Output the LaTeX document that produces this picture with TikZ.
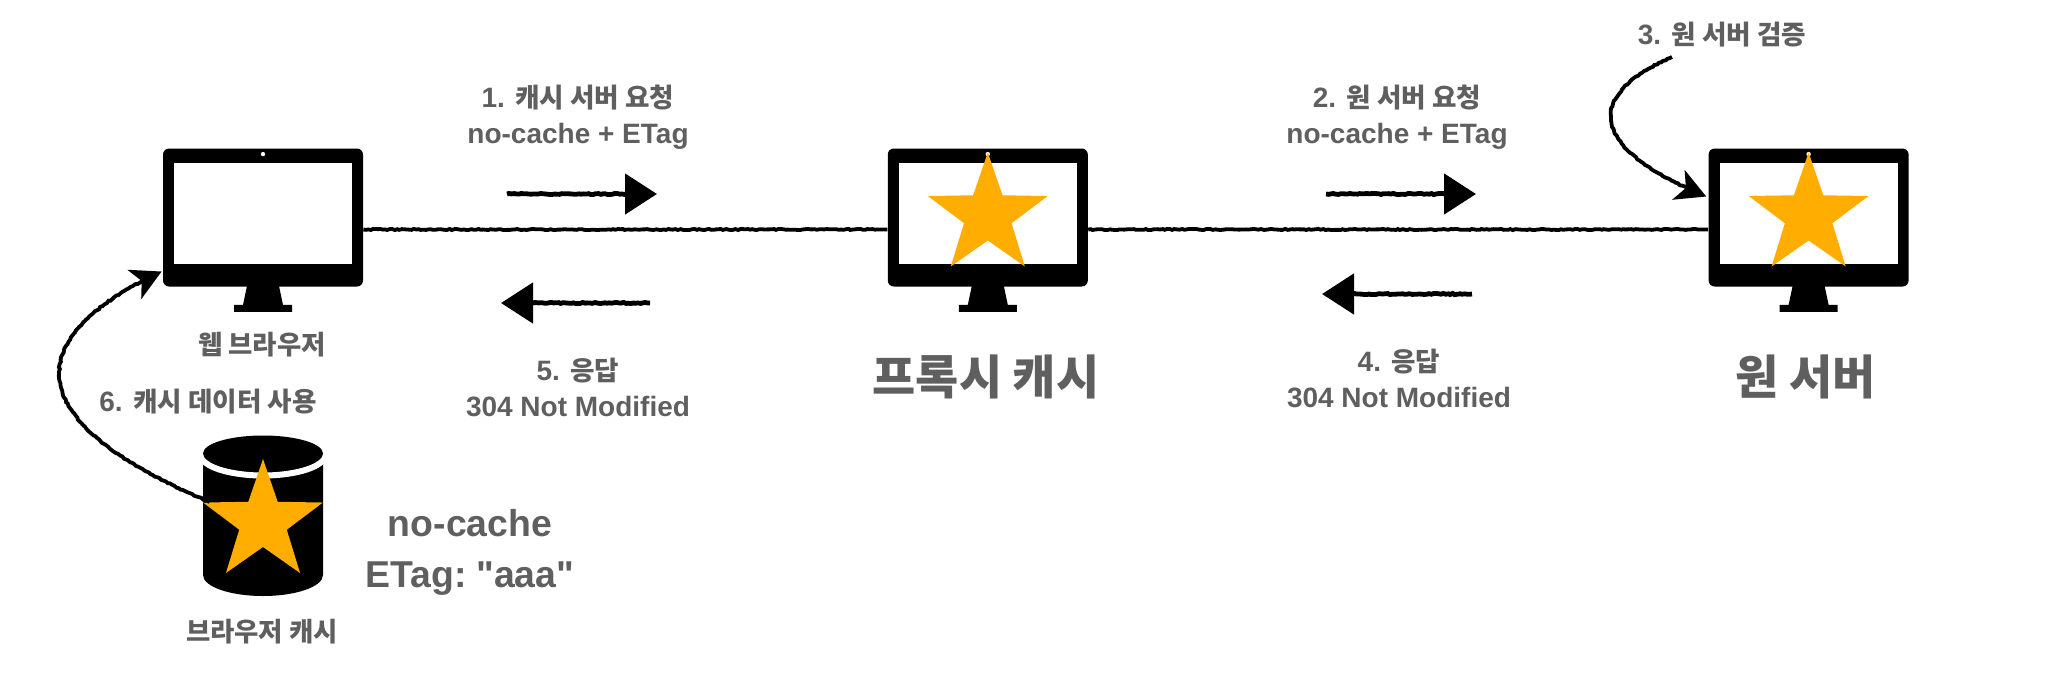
\documentclass[tikz,border=0pt]{standalone}
\usepackage{fontspec}
\setmainfont{Liberation Sans}
\newfontfamily\plainlat{Liberation Sans}
\newfontfamily\kr[Scale=0.95]{Noto Sans CJK KR Bold}
\usepackage{tikz}
\usetikzlibrary{arrows.meta,positioning,shapes.geometric,decorations.pathmorphing}
\definecolor{labelgray}{HTML}{5F5F5F}
\definecolor{stargold}{HTML}{FFAD00}

\begin{document}
\begin{tikzpicture}[
      x=0.5pt,y=-0.5pt,
      node distance=10pt and 262pt,
      monitor/.style={fill=black,rounded corners=3pt,inner sep=0pt,
                  minimum width=100pt,minimum height=69pt},
      screen/.style={fill=white,inner sep=0pt,
                  minimum width=89pt,minimum height=50.5pt},
      camdot/.style={circle,fill=white,inner sep=0pt,minimum size=2.2pt},
      goldstar/.style={star,star points=5,star point ratio=2.52,fill=stargold,
                  inner sep=0pt,minimum size=63pt},
      store/.style={inner sep=0pt,minimum width=60pt,minimum height=80pt},
      lbl/.style={font=\fontsize{14}{18}\selectfont\bfseries,text=labelgray,
                  align=center,inner sep=0pt},
      small/.style={font=\fontsize{13.9}{18}\selectfont\bfseries,text=labelgray,
                  align=center,inner sep=0pt},
      title/.style={font=\fontsize{24.7}{28}\selectfont\bfseries,text=labelgray,
                  align=center,inner sep=0pt},
      big/.style={font=\fontsize{18.7}{25.5}\selectfont\bfseries,text=labelgray,
                  align=center,inner sep=0pt},
      rough/.style={decorate,decoration={random steps,segment length=1.2pt,
                  amplitude=.3pt,post length=5pt}},
      link/.style={rough,line width=1.9pt,black},
      arr/.style={rough,line width=2.4pt,black,-{Triangle[length=16pt,width=20pt]}},
      curve/.style={rough,line width=1.9pt,black,-{Stealth[length=15pt,width=16pt,inset=4pt]}}
    ]
      \useasboundingbox (0,0) rectangle (2048,680);
      \pgfmathsetseed{42}
      % monitors
      \node[monitor] (web) at (263,217.5) {};
      \node[monitor,right=of web] (proxy) {};
      \node[monitor,right=310pt of proxy] (origin) {};
      \foreach \mon in {web,proxy,origin}{
        \node[screen] (\mon-screen) at ([yshift=2.2pt]\mon.center) {};
        \node[camdot] (\mon-dot) at ([yshift=-3pt]\mon.north) {};
        \fill[shift={(\mon.south)}] (-16,-1)--(16,-1)--(20,18)--(29,18)--(29,25)
          --(-29,25)--(-29,18)--(-20,18)--cycle;
      }
      \node[goldstar] (proxy-star) at ([yshift=1pt]proxy.center) {};
      \node[goldstar] (origin-star) at ([yshift=1pt]origin.center) {};
      % browser cache
      \node[store] (cache) at (263,516) {};
      \fill[shift={(cache.center)}] (-60,-54)--(60,-54)--(60,59)
        arc[start angle=0,end angle=180,x radius=60,y radius=21]--cycle;
      \draw[white,line width=3pt,shift={(cache.center)}] (-62,-61) arc[start angle=180,
        end angle=0,x radius=62,y radius=20.5];
      \fill[shift={(cache.center)}] (0,-62.5) ellipse[x radius=60,y radius=18];
      \node[goldstar] (cache-star) at ([yshift=-3pt]cache.center) {};
      % connectors
      \draw[link] ([yshift=-6pt]web.east) -- ([yshift=-6pt]proxy.west);
      \draw[link] ([yshift=-6pt]proxy.east) -- ([yshift=-6pt]origin.west);
      \coordinate (req1a) at (507,194);
      \coordinate (req1b) at (657,194);
      \coordinate (res5a) at (650,303);
      \coordinate (res5b) at (501,303);
      \coordinate (req2a) at (1326,194);
      \coordinate (req2b) at (1476,194);
      \coordinate (res4a) at (1472,294);
      \coordinate (res4b) at (1322,294);
      \coordinate (check) at (1672,57);
      \draw[arr] (req1a) -- (req1b);
      \draw[arr] (res5a) -- (res5b);
      \draw[arr] (req2a) -- (req2b);
      \draw[arr] (res4a) -- (res4b);
      \draw[curve] (check) .. controls (1590,92) and (1580,145)
        .. ([xshift=-1pt,yshift=10.5pt]origin.west);
      \draw[curve] ([xshift=3.5pt,yshift=7pt]cache.west) .. controls (-8,410) and (42,327)
        .. ([xshift=-.5pt,yshift=-27pt]web.west);
      % labels
      \node[lbl] (req1) at (578,117) {1. {\kr 캐시 서버 요청}\\no-cache + ETag};
      \node[lbl] (res5) at (578,387) {5. {\kr 응답}\\304 Not Modified};
      \node[lbl] (req2) at (1397,117) {2. {\kr 원 서버 요청}\\no-cache + ETag};
      \node[lbl] (res4) at (1399,378) {4. {\kr 응답}\\304 Not Modified};
      \node[lbl] (step3) at (1722,35) {3. {\kr 원 서버 검증}};
      \node[lbl] (step6) at (208,402) {6. {\kr 캐시 데이터 사용}};
      \node[small] (web-name) at (262,345) {\kr 웹 브라우저};
      \node[small] (cache-name) at (262,632) {\kr 브라우저 캐시};
      \node[title] (proxy-name) at (986,377) {\kr 프록시 캐시};
      \node[title] (origin-name) at (1806,377) {\kr 원 서버};
      \node[big] (headers) at (470,552) {no-cache\\ETag:\kern-2.2pt{} {\plainlat "aaa"}};
\end{tikzpicture}
\end{document}
